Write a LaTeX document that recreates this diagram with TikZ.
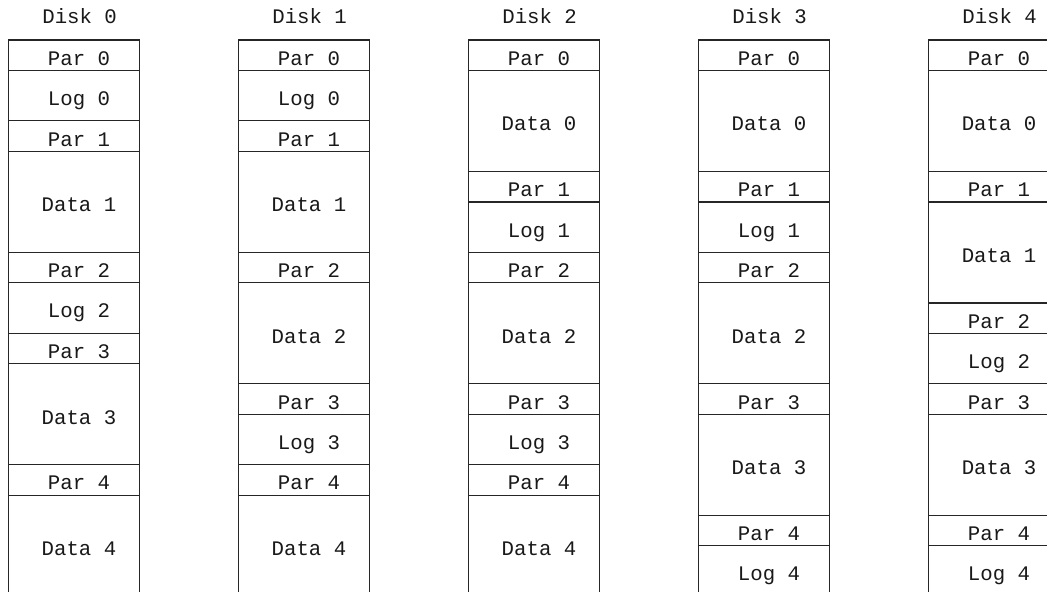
\documentclass[tikz,border=0pt]{standalone}
\usepackage{fontspec}
\newfontfamily\monofam{Liberation Mono}
\tikzset{
  cell/.style={draw=black!85, line width=0.55pt, rectangle, inner sep=0pt, outer sep=0pt,
    minimum width=65.5pt},
  celltext/.style={anchor=base, inner sep=0pt, font=\monofam\fontsize{10.35}{12}\selectfont, text=black!90},
}
\newcommand\mkdisk[3]{% #1 index, #2 x centre, #3 list height/label
  \node[celltext] (h#1) at ([xshift=2.9pt]#2,24) {Disk #1};
  \gdef\cury{40}%
  \foreach \h/\lab [count=\k] in {#3}{
    \pgfmathsetmacro\cy{\cury+\h/2}
    \node[cell, minimum height=\h*0.5pt] (d#1c\k) at (#2,\cy) {};
    \node[celltext] (t#1c\k) at ([xshift=2.6pt, yshift=-5pt]d#1c\k.center) {\lab};
    \pgfmathsetmacro\ny{\cury+\h}
    \xdef\cury{\ny}
  }
}
\def\P{30.5}\def\L{50.3}\def\D{101}
\begin{document}
\begin{tikzpicture}[x=0.5pt, y=-0.5pt]
\useasboundingbox (0,0) rectangle (1047,592);
\clip (0,0) rectangle (1047,592);
\fill[white] (0,0) rectangle (1047,592);
\mkdisk{0}{73.8}{\P/Par 0, \L/Log 0, \P/Par 1, \D/Data 1, \P/Par 2, \L/Log 2, \P/Par 3, \D/Data 3, \P/Par 4, \D/Data 4}
\mkdisk{1}{303.8}{\P/Par 0, \L/Log 0, \P/Par 1, \D/Data 1, \P/Par 2, \D/Data 2, \P/Par 3, \L/Log 3, \P/Par 4, \D/Data 4}
\mkdisk{2}{533.8}{\P/Par 0, \D/Data 0, \P/Par 1, \L/Log 1, \P/Par 2, \D/Data 2, \P/Par 3, \L/Log 3, \P/Par 4, \D/Data 4}
\mkdisk{3}{763.8}{\P/Par 0, \D/Data 0, \P/Par 1, \L/Log 1, \P/Par 2, \D/Data 2, \P/Par 3, \D/Data 3, \P/Par 4, \L/Log 4}
\mkdisk{4}{993.8}{\P/Par 0, \D/Data 0, \P/Par 1, \D/Data 1, \P/Par 2, \L/Log 2, \P/Par 3, \D/Data 3, \P/Par 4, \L/Log 4}
\end{tikzpicture}
\end{document}
